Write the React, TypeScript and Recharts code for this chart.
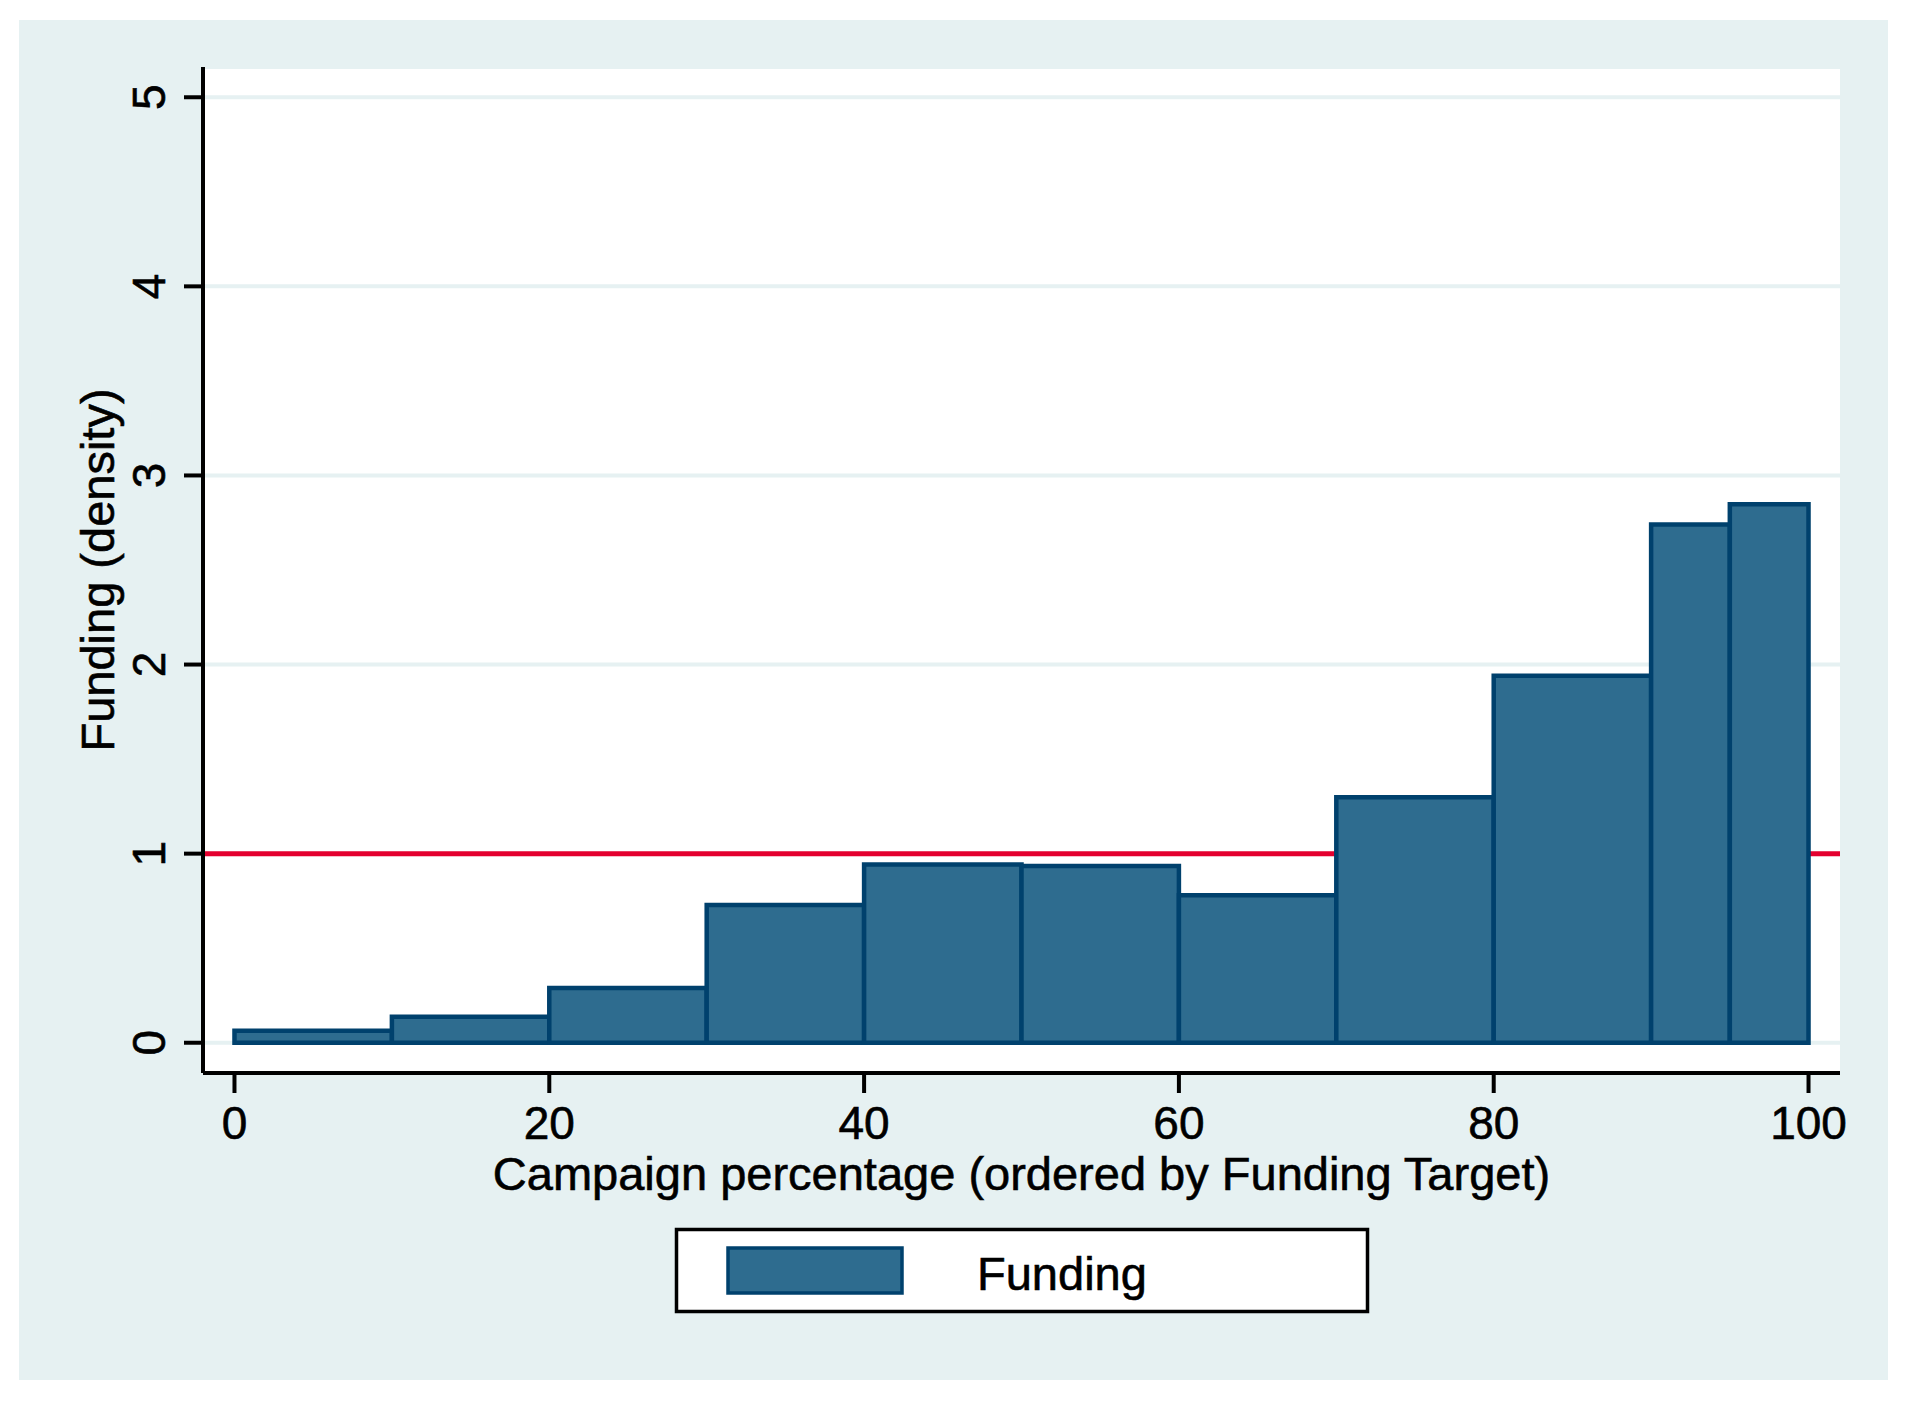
import React from 'react';
import {
  ComposedChart,
  XAxis,
  YAxis,
  CartesianGrid,
  ReferenceArea,
  ReferenceLine,
} from 'recharts';

// ---- data ----
const binStarts = [0, 10, 20, 30, 40, 50, 60, 70, 80, 90, 95];
const binEnds = [10, 20, 30, 40, 50, 60, 70, 80, 90, 95, 100];
const densities = [0.063, 0.137, 0.289, 0.729, 0.942, 0.935, 0.78, 1.298, 1.941, 2.74, 2.848];
const xTicks = [0, 20, 40, 60, 80, 100];
const yTicks = [0, 1, 2, 3, 4, 5];
const referenceValue = 1;
const seriesName = 'Funding';
const xTitle = 'Campaign percentage (ordered by Funding Target)';
const yTitle = 'Funding (density)';

const bins = binStarts.map((s, i) => ({ start: s, end: binEnds[i], density: densities[i] }));

// ---- styles ----
const FONT = '"Liberation Sans", Arial, Helvetica, sans-serif';
const BG = '#e6f1f2';
const BAR_FILL = '#2e6c8f';
const BAR_STROKE = '#00416d';
const RED = '#e4002f';
const TEXT_STROKE = 0.6;

const YTick = (props: any) => {
  const { x, y, payload } = props;
  return (
    <text
      x={x}
      y={y}
      transform={`rotate(-90 ${x} ${y})`}
      textAnchor="middle"
      fontSize={46}
      fontFamily={FONT}
      fill="#000"
      stroke="#000"
      strokeWidth={TEXT_STROKE}
    >
      {payload.value}
    </text>
  );
};

const XTitle = (props: any) => {
  const vb = props.viewBox || {};
  const cx = vb.x + vb.width / 2;
  return (
    <text
      x={cx}
      y={vb.y + 117}
      textAnchor="middle"
      fontSize={47}
      fontFamily={FONT}
      fill="#000"
      stroke="#000"
      strokeWidth={TEXT_STROKE}
    >
      {xTitle}
    </text>
  );
};

const YTitle = (props: any) => {
  const vb = props.viewBox || {};
  const x = vb.x + 114;
  const y = vb.y + vb.height / 2;
  return (
    <text
      x={x}
      y={y}
      transform={`rotate(-90 ${x} ${y})`}
      textAnchor="middle"
      fontSize={47}
      fontFamily={FONT}
      fill="#000"
      stroke="#000"
      strokeWidth={TEXT_STROKE}
    >
      {yTitle}
    </text>
  );
};

export default function App() {
  return (
    <div
      style={{
        position: 'absolute',
        left: 0,
        top: 0,
        width: 1913,
        height: 1404,
        background: '#fff',
        overflow: 'hidden',
      }}
    >
      <div
        style={{
          position: 'absolute',
          left: 19,
          top: 20,
          width: 1869,
          height: 1360,
          background: BG,
        }}
      />
      <div style={{ position: 'absolute', left: 0, top: 0 }}>
        <ComposedChart
          width={1913}
          height={1404}
          data={bins}
          margin={{ top: 67, right: 73, bottom: 0, left: 0 }}
        >
          <CartesianGrid
            vertical={false}
            horizontal={true}
            stroke={BG}
            strokeWidth={4}
            fill="#ffffff"
            fillOpacity={1}
          />
          <XAxis
            type="number"
            dataKey="start"
            domain={[-2, 102]}
            allowDataOverflow
            ticks={xTicks}
            interval={0}
            height={331}
            tickSize={20}
            tickMargin={13}
            axisLine={{ stroke: '#000', strokeWidth: 4 }}
            tickLine={{ stroke: '#000', strokeWidth: 4 }}
            tick={{ fill: '#000', fontSize: 46, fontFamily: FONT, stroke: '#000', strokeWidth: TEXT_STROKE }}
            label={<XTitle />}
          />
          <YAxis
            type="number"
            domain={[-0.16, 5.16]}
            allowDataOverflow
            ticks={yTicks}
            interval={0}
            width={203}
            tickSize={19}
            tickMargin={19}
            axisLine={{ stroke: '#000', strokeWidth: 4 }}
            tickLine={{ stroke: '#000', strokeWidth: 4 }}
            tick={<YTick />}
            label={<YTitle />}
          />
          <ReferenceLine
            y={referenceValue}
            stroke={RED}
            strokeWidth={5}
            zIndex={50}
          />
          {bins.map((b, i) => (
            <ReferenceArea
              key={i}
              x1={b.start}
              x2={b.end}
              y1={0}
              y2={b.density}
              fill={BAR_FILL}
              fillOpacity={1}
              stroke={BAR_STROKE}
              strokeWidth={4.5}
              zIndex={600}
            />
          ))}
        </ComposedChart>
      </div>
      {/* legend */}
      <svg
        width={1913}
        height={1404}
        style={{ position: 'absolute', left: 0, top: 0, pointerEvents: 'none' }}
      >
        <rect x={676.5} y={1229.5} width={691} height={82} fill="#fff" stroke="#000" strokeWidth={3.5} />
        <rect x={728} y={1248} width={174} height={45} fill={BAR_FILL} stroke={BAR_STROKE} strokeWidth={3.5} />
        <text
          x={977}
          y={1290}
          fontSize={47}
          fontFamily={FONT}
          fill="#000"
          stroke="#000"
          strokeWidth={TEXT_STROKE}
        >
          {seriesName}
        </text>
      </svg>
    </div>
  );
}
